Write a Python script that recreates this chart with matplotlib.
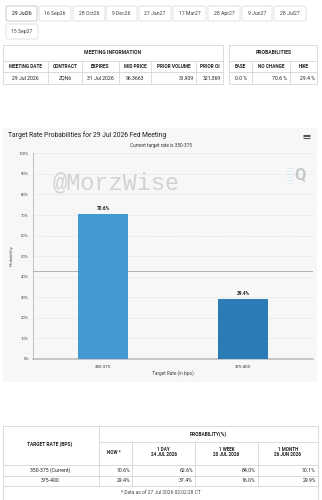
import matplotlib
matplotlib.use("Agg")
import matplotlib.pyplot as plt
from matplotlib.patches import Rectangle, FancyBboxPatch

plt.rcParams['font.family'] = ['Roboto', 'DejaVu Sans']

# ---------------- data ----------------
tab_labels = ["29 Jul26", "16 Sep26", "28 Oct26", "9 Dec26", "27 Jan27",
              "17 Mar27", "28 Apr27", "9 Jun27", "28 Jul27", "15 Sep27"]

meeting_headers = ["MEETING DATE", "CONTRACT", "EXPIRES", "MID PRICE", "PRIOR VOLUME", "PRIOR OI"]
meeting_values = ["29 Jul 2026", "ZQN6", "31 Jul 2026", "96.3663", "31,909", "321,369"]
prob_headers = ["EASE", "NO CHANGE", "HIKE"]
prob_values = ["0.0 %", "70.6 %", "29.4 %"]

rates = ["350-375", "375-400"]
probs_now = [70.6, 29.4]
bar_colors = ["#4499d3", "#2a7bb6"]
ref_line = 42.7
y_ticks = [0, 10, 20, 30, 40, 50, 60, 70, 80, 90, 100]

row_labels = ["350-375 (Current)", "375-400"]
now_vals = [70.6, 29.4]
day_vals = [62.6, 37.4]
week_vals = [84.0, 16.0]
month_vals = [70.1, 29.9]
period_titles = [("NOW *", ""), ("1 DAY", "24 JUL 2026"), ("1 WEEK", "20 JUL 2026"), ("1 MONTH", "26 JUN 2026")]

W, H = 322, 500
fig = plt.figure(figsize=(W / 100, H / 100), dpi=100)
fig.patch.set_facecolor("white")

# overlay axes in pixel coordinates
ov = fig.add_axes([0, 0, 1, 1], zorder=0)
ov.set_xlim(0, W)
ov.set_ylim(H, 0)
ov.axis("off")

TXT = "#222222"
LINE = "#d6d6d6"

def hline(x0, x1, y, c=LINE, lw=0.6):
    ov.plot([x0, x1], [y, y], color=c, lw=lw, solid_capstyle="butt")

def vline(x, y0, y1, c=LINE, lw=0.6):
    ov.plot([x, x], [y0, y1], color=c, lw=lw, solid_capstyle="butt")

def txt(x, y, s, size=3.6, ha="center", weight="normal", color=TXT, **kw):
    ov.text(x, y, s, fontsize=size, ha=ha, va="center", fontweight=weight, color=color, **kw)

# ---------------- tabs ----------------
tab_x = [(6, 37), (39, 71), (73, 105), (106, 137), (139, 171),
         (173, 206), (208, 240), (242, 272), (274, 306)]
for i, lab in enumerate(tab_labels):
    if i < 9:
        x0, x1 = tab_x[i]
        y0, y1 = 6, 21
    else:
        x0, x1 = 6, 38
        y0, y1 = 24, 39
    ov.add_patch(FancyBboxPatch((x0, y0), x1 - x0, y1 - y0, boxstyle="round,pad=0,rounding_size=1.5",
                                fc="white", ec="#bfbfbf" if i == 0 else "#dddddd", lw=0.6))
    txt((x0 + x1) / 2, (y0 + y1) / 2, lab, size=3.7, color="#111111" if i == 0 else "#444444")

# ---------------- meeting info table ----------------
mx = [3.3, 48.3, 81.7, 119, 151, 196, 222.7]
top, r1, r2, bot = 45, 60.7, 71.7, 84.3
ov.add_patch(Rectangle((mx[0], top), mx[-1] - mx[0], bot - top, fc="white", ec=LINE, lw=0.6))
hline(mx[0], mx[-1], r1)
hline(mx[0], mx[-1], r2)
for x in mx[1:-1]:
    vline(x, r1, bot)
txt((mx[0] + mx[-1]) / 2, 52.5, "MEETING INFORMATION", size=3.6, weight="bold")
for i, h in enumerate(meeting_headers):
    cx = (mx[i] + mx[i + 1]) / 2
    txt(cx, 66.3, h, size=3.4, weight="bold")
for i, v in enumerate(meeting_values):
    if i in (4, 5):
        txt(mx[i + 1] - 2, 78.3, v, size=3.7, ha="right")
    else:
        txt((mx[i] + mx[i + 1]) / 2, 78.3, v, size=3.7)

px = [229, 252.3, 290, 317.3]
ov.add_patch(Rectangle((px[0], top), px[-1] - px[0], bot - top, fc="white", ec=LINE, lw=0.6))
hline(px[0], px[-1], r1)
hline(px[0], px[-1], r2)
for x in px[1:-1]:
    vline(x, r1, bot)
txt((px[0] + px[-1]) / 2, 52.5, "PROBABILITIES", size=3.6, weight="bold")
for i, h in enumerate(prob_headers):
    txt((px[i] + px[i + 1]) / 2, 66.3, h, size=3.4, weight="bold")
for i, v in enumerate(prob_values):
    if i == 0:
        txt((px[0] + px[1]) / 2, 78.3, v, size=3.7)
    else:
        txt(px[i + 1] - 2.5, 78.3, v, size=3.7, ha="right")

# ---------------- chart panel ----------------
ov.add_patch(Rectangle((3.3, 128), 313.4, 253.7, fc="#f7f7f7", ec="none"))
txt(8, 135.3, "Target Rate Probabilities for 29 Jul 2026 Fed Meeting", size=4.85, ha="left", color="#222222")
txt(160.5, 145.3, "Current target rate is 350-375", size=3.4, color="#333333")
for yy in (134.6, 136.4, 138.2):
    hline(303.5, 310.5, yy, c="#555555", lw=0.8)
txt(12, 256, "Probability", size=3.2, rotation=90, color="#555555")
txt(173, 372.8, "Target Rate (in bps)", size=3.4, color="#444444")

# watermark
ov.text(116, 183, "@MorzWise", fontsize=17, family="Liberation Mono", color="#d3d3d3",
        ha="center", va="center", zorder=5)
# Q logo
ov.text(300, 175, "Q", fontsize=12, fontweight="bold", color="#b4babc", ha="center", va="center", alpha=0.75)
for k, yy in enumerate((168, 171, 174, 177, 180, 183)):
    hline(286 + k * 0.3, 293, yy, c="#cdeef1", lw=0.5)

# ---------------- chart axes ----------------
x0p, x1p, ytop, ybot = 33, 313, 153.3, 359
ax = fig.add_axes([x0p / W, 1 - ybot / H, (x1p - x0p) / W, (ybot - ytop) / H], zorder=2)
ax.patch.set_alpha(0)
xs = list(range(len(rates)))
bars = ax.bar(xs, probs_now, width=0.36, color=bar_colors, zorder=3)
for x, v in zip(xs, probs_now):
    ax.text(x, v + 1.3, f"{v}%", ha="center", va="bottom", fontsize=3.4, fontweight="bold", color="#222222")
ax.axhline(ref_line, color="#a8a8a8", lw=0.6, zorder=2)
ax.set_xlim(-0.5, len(rates) - 0.5)
ax.set_ylim(0, 100)
ax.set_yticks(y_ticks)
ax.set_yticklabels([f"{t}%" for t in y_ticks], fontsize=3.0, color="#444444")
ax.set_xticks(xs)
ax.set_xticklabels(rates, fontsize=3.2, color="#333333")
ax.tick_params(length=0, pad=3)
ax.tick_params(axis="x", pad=4)
for t in y_ticks[1:]:
    ax.axhline(t, color="#cdcdcd", lw=0.5, ls=(0, (1, 2)), zorder=1)
for s in ("top", "right"):
    ax.spines[s].set_visible(False)
ax.spines["left"].set_color("#c0c0c0")
ax.spines["left"].set_linewidth(0.7)
ax.spines["bottom"].set_color("#bdbdbd")
ax.spines["bottom"].set_linewidth(1.2)

# ---------------- bottom table ----------------
bx = [3, 99, 132.3, 195, 257.7, 318]
t_top, t_sub, t_h, t_r1, t_r2 = 425.5, 442, 465, 475.7, 485.7
ov.add_patch(Rectangle((bx[0], t_top), bx[-1] - bx[0], 520 - t_top, fc="white", ec=LINE, lw=0.6, clip_on=True))
vline(bx[1], t_top, t_r2)
hline(bx[1], bx[-1], t_sub)
for x in bx[2:-1]:
    vline(x, t_sub, t_r2)
for y in (t_h, t_r1, t_r2):
    hline(bx[0], bx[-1], y)
txt(50, 444, "TARGET RATE (BPS)", size=3.5, weight="bold")
txt((bx[1] + bx[-1]) / 2, 434.5, "PROBABILITY(%)", size=3.5, weight="bold")
for i, (a, b) in enumerate(period_titles):
    cx = (bx[i + 1] + bx[i + 2]) / 2
    if b:
        txt(cx, 449.3, a, size=3.3, weight="bold")
        txt(cx, 454.3, b, size=3.3, weight="bold")
    else:
        txt(cx - 1.5, 452, a, size=3.3, weight="bold")
cols = [now_vals, day_vals, week_vals, month_vals]
for r, lab in enumerate(row_labels):
    yy = (t_h + t_r1) / 2 if r == 0 else (t_r1 + t_r2) / 2
    txt(50, yy, lab, size=3.7)
    for c, vals in enumerate(cols):
        txt(bx[c + 2] - 2, yy, f"{vals[r]:.1f}%", size=3.7, ha="right")
txt(160.5, 492.7, "* Data as of 27 Jul 2026 02:02:28 CT", size=3.5, color="#444444")

fig.savefig("out.png", dpi=100, facecolor="white")
